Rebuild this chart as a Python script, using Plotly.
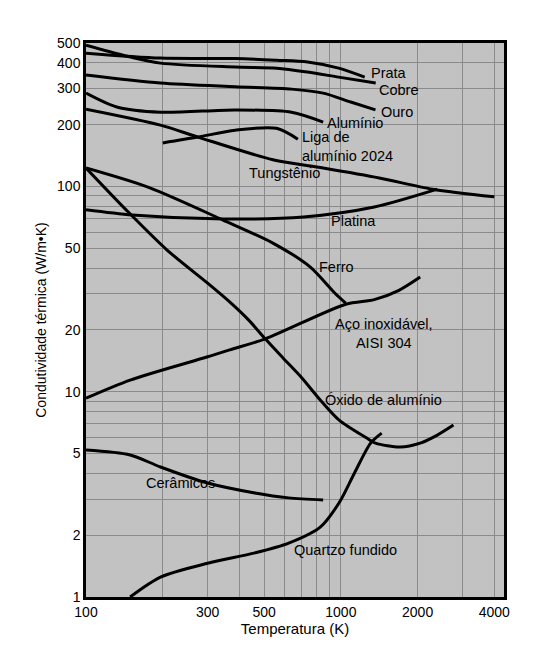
import numpy as np
import plotly.graph_objects as go

# temperatures (K) and conductivities (W/m.K)
prata_t = [100, 196, 385, 560, 740, 980, 1240]
prata_k = [446, 422, 420, 412, 404, 377, 341]

cobre_t = [100, 140, 196, 385, 560, 740, 980, 1370]
cobre_k = [488, 436, 399, 382, 377, 361, 341, 319]

ouro_t = [100, 196, 385, 640, 852, 1093, 1367]
ouro_k = [349, 319, 306, 298, 285, 258, 236]

aluminio_t = [100, 132, 196, 385, 640, 852]
aluminio_k = [285, 244, 230, 236, 230, 206]

liga_t = [200, 275, 385, 559, 678]
liga_k = [163, 174, 188, 192, 170]

tungstenio_t = [100, 196, 275, 541, 852, 1414, 2287, 4000]
tungstenio_k = [238, 199, 174, 135, 123, 110, 97, 89]

platina_t = [100, 152, 345, 713, 1352, 2390]
platina_k = [77, 72.6, 69.4, 71, 79.4, 97]

ferro_t = [100, 176, 345, 541, 757, 948, 1045]
ferro_k = [123, 99, 68.6, 53, 40.6, 30.2, 27]

aco_t = [100, 149, 300, 366, 505, 1045, 1352, 1690, 2047]
aco_k = [9.3, 11.4, 14.8, 16.0, 18.1, 26.7, 28.1, 31.2, 36.2]

oxido_t = [100, 144, 208, 300, 366, 434, 505, 593, 702, 830, 984, 1264,
           1367, 1710, 2047, 2390, 2765]
oxido_k = [123, 76.7, 49, 33.8, 27.4, 22.4, 18.1, 14.6, 11.7, 9.12, 7.28,
           5.95, 5.62, 5.38, 5.62, 6.15, 6.88]

ceramicos_t = [100, 149, 196, 300, 460, 624, 852]
ceramicos_k = [5.2, 4.92, 4.3, 3.59, 3.21, 3.04, 2.97]

quartzo_t = [149, 196, 300, 460, 624, 830, 983, 1131, 1308, 1446]
quartzo_k = [1.0, 1.25, 1.46, 1.64, 1.83, 2.19, 2.87, 4.02, 5.62, 6.29]

x_ticks = [100, 300, 500, 1000, 2000, 4000]
y_ticks = [1, 2, 5, 10, 20, 50, 100, 200, 300, 400, 500]
x_grid = [200, 300, 400, 500, 600, 700, 800, 900, 1000, 2000, 3000, 4000]
y_grid = [2, 3, 4, 5, 6, 7, 8, 9, 10, 20, 30, 40, 50, 60, 70, 80, 90,
          100, 200, 300, 400]

series = [
    (prata_t, prata_k), (cobre_t, cobre_k), (ouro_t, ouro_k),
    (aluminio_t, aluminio_k), (liga_t, liga_k),
    (tungstenio_t, tungstenio_k), (platina_t, platina_k),
    (ferro_t, ferro_k), (aco_t, aco_k), (oxido_t, oxido_k),
    (ceramicos_t, ceramicos_k), (quartzo_t, quartzo_k),
]

# (text, T, k, anchor, yshift)
labels = [
    ("Prata", 1293, 349, "left", 2),
    ("Cobre", 1383, 301, "left", -2),
    ("Ouro", 1414, 230, "left", 0),
    ("Alumínio", 866, 204, "left", 0),
    ("Liga de<br>alumínio 2024", 690, 157, "left", 0),
    ("Tungstênio", 427, 116, "left", 0),
    ("Platina", 896, 67.8, "left", 0),
    ("Ferro", 803, 40.5, "left", 0),
    ("Aço inoxidável,<br>AISI 304", 1479, 19.3, "center", 0),
    ("Óxido de alumínio", 852, 9.1, "left", 0),
    ("Cerâmicos", 169, 3.59, "left", 0),
    ("Quartzo fundido", 645, 1.69, "left", 0),
]

FONT = "Liberation Sans, Arial, sans-serif"

fig = go.Figure()
for t, k in series:
    fig.add_trace(go.Scatter(
        x=t, y=k, mode="lines",
        line=dict(color="black", width=3, shape="spline", smoothing=0.8),
        hoverinfo="skip",
    ))

for text, t, k, anchor, dy in labels:
    fig.add_annotation(
        x=np.log10(t), y=np.log10(k), text=text, showarrow=False,
        xanchor=anchor, align=anchor, yanchor="middle", yshift=dy,
        font=dict(family=FONT, size=14.5, color="black"),
    )

axis_common = dict(
    type="log",
    showline=True, linecolor="black", linewidth=2.5, mirror=True,
    ticks="", showgrid=True, gridcolor="#8a8a8a", gridwidth=1,
    zeroline=False,
    tickfont=dict(family=FONT, size=14, color="black"),
)

# the page body adds 8px all round, so the figure is a bit smaller
fig.update_layout(
    width=537, height=658,
    margin=dict(l=78, r=41, t=35, b=69),
    paper_bgcolor="white",
    plot_bgcolor="#c2c2c2",
    showlegend=False,
    font=dict(family=FONT, size=14, color="black"),
    xaxis=dict(
        **axis_common,
        range=[2, 3.64],
        tickmode="array", tickvals=x_ticks, ticktext=[str(v) for v in x_ticks],
        minor=dict(tickmode="array", tickvals=x_grid, showgrid=True,
                   gridcolor="#8a8a8a", gridwidth=1, ticks=""),
        title=dict(text="Temperatura (K)", standoff=3,
                   font=dict(family=FONT, size=15)),
    ),
    yaxis=dict(
        **axis_common,
        range=[0, np.log10(500)],
        tickmode="array", tickvals=y_ticks, ticktext=[str(v) for v in y_ticks],
        minor=dict(tickmode="array", tickvals=y_grid, showgrid=True,
                   gridcolor="#8a8a8a", gridwidth=1, ticks=""),
        title=dict(text="Condutividade térmica (W/m•K)", standoff=8,
                   font=dict(family=FONT, size=14)),
    ),
)

fig.write_html("out.html")
